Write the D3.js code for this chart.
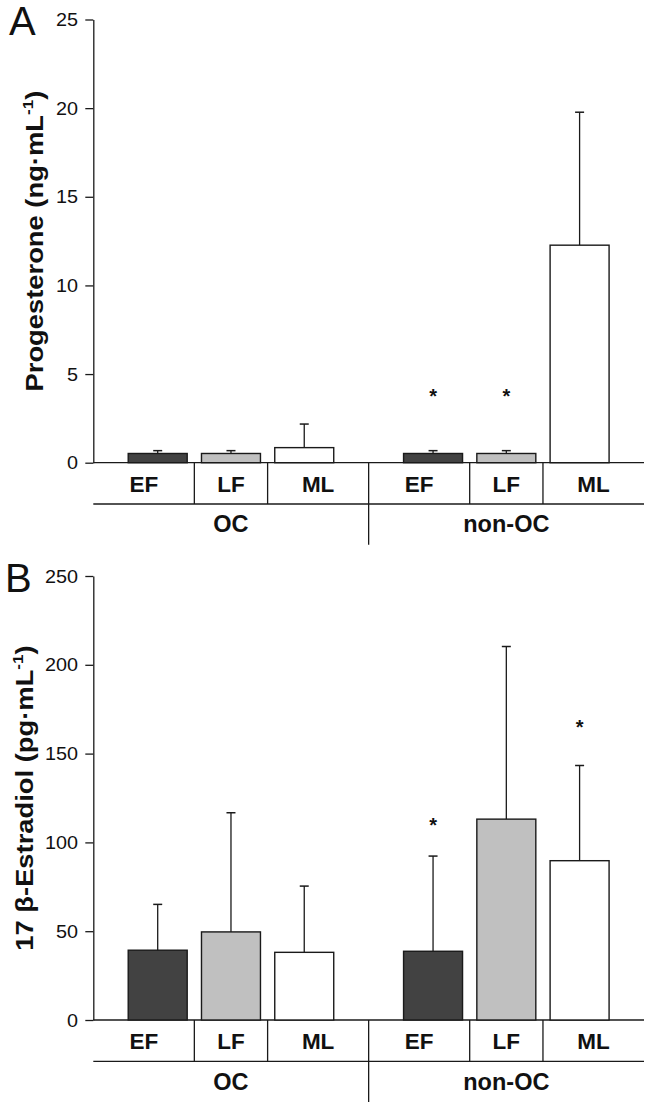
<!DOCTYPE html>
<html><head><meta charset="utf-8">
<script src="https://cdn.jsdelivr.net/npm/d3@7"></script>
<style>
html,body{margin:0;padding:0;background:#fff;}
svg{display:block;font-family:"Liberation Sans",Arial,Helvetica,sans-serif;}
</style>
</head><body>
<svg id="chart" width="649" height="1107"></svg>
<script>
// ---- data ----
const groups = ["OC", "non-OC"];
const phases = ["EF", "LF", "ML"];
// order: OC EF, OC LF, OC ML, non-OC EF, non-OC LF, non-OC ML
const progMean = [0.52, 0.52, 0.85, 0.52, 0.52, 12.27];
const progSD   = [0.16, 0.16, 1.33, 0.16, 0.16, 7.50];
const progStar = [null, null, null, 4.0, 4.0, null];
const progTicks = [0, 5, 10, 15, 20, 25];

const estMean = [39.3, 49.6, 38.1, 38.7, 113.1, 89.7];
const estSD   = [25.8, 67.1, 37.3, 53.6, 97.2, 53.6];
const estStar = [null, null, null, 112.5, null, 167.7];
const estTicks = [0, 50, 100, 150, 200, 250];

const phaseFill = {EF: "#424242", LF: "#c0c0c0", ML: "#ffffff"};

// ---- layout ----
const X0 = 93.3, X1 = 644;
const ink = "#1a1a1a";
const panels = [
  {letter: "A", letterX: 9, top: 19.5, base: 462.7, max: 25, mean: progMean, sd: progSD, star: progStar,
   ticks: progTicks, label: ["Progesterone (ng·mL", "-1", ")"], labelX: 43.3},
  {letter: "B", letterX: 5, top: 576, base: 1020, max: 250, mean: estMean, sd: estSD, star: estStar,
   ticks: estTicks, label: ["17 β-Estradiol (pg·mL", "-1", ")"], labelX: 33}
];

const svg = d3.select("#chart");
const gx = d3.scaleBand().domain(groups).range([X0, X1]).paddingInner(0).paddingOuter(0);
const PI = 0.195;
const inner = d3.scaleBand().domain(phases).range([0, gx.bandwidth()]).paddingInner(PI).paddingOuter(0.4765);
const bw = inner.bandwidth(), step = inner.step();

const rows = groups.flatMap((g, gi) => phases.map((p, pi) => ({g, p, pi, i: gi * 3 + pi})));

function cellBounds(d) {
  const gs = gx(d.g);
  const left = d.pi === 0 ? gs : gs + inner(d.p) - step * PI / 2;
  const right = d.pi === phases.length - 1 ? gs + gx.bandwidth() : gs + inner(d.p) + bw + step * PI / 2;
  return [left, right];
}

panels.forEach(P => {
  const y = d3.scaleLinear().domain([0, P.max]).range([P.base, P.top]);
  const g = svg.append("g");

  // y axis
  const ax = g.append("g").attr("transform", `translate(${X0},0)`)
    .call(d3.axisLeft(y).tickValues(P.ticks).tickSize(8).tickSizeOuter(0));
  ax.select(".domain").attr("stroke", ink).attr("stroke-width", 1.3);
  ax.selectAll(".tick line").attr("stroke", ink).attr("stroke-width", 1.3);
  ax.selectAll(".tick text")
    .attr("font-family", '"Liberation Sans", Arial, sans-serif')
    .attr("font-size", 18).attr("fill", "#111")
    .attr("x", -15.3 / 1.1).attr("dy", "0.34em")
    .attr("transform", "scale(1.1,1)");

  // baseline & category box
  const lowY = P.base + 41.3;
  g.append("line").attr("x1", X0).attr("x2", X1).attr("y1", y(0)).attr("y2", y(0))
    .attr("stroke", ink).attr("stroke-width", 1.3);
  g.append("line").attr("x1", X0).attr("x2", X1).attr("y1", lowY).attr("y2", lowY)
    .attr("stroke", ink).attr("stroke-width", 1.3);
  // cell dividers
  rows.filter(d => d.pi > 0).forEach(d => {
    const xx = cellBounds(d)[0];
    g.append("line").attr("x1", xx).attr("x2", xx).attr("y1", y(0)).attr("y2", lowY)
      .attr("stroke", ink).attr("stroke-width", 1.3);
  });
  // group divider
  groups.slice(1).forEach(gr => {
    const xx = gx(gr);
    g.append("line").attr("x1", xx).attr("x2", xx).attr("y1", y(0)).attr("y2", P.base + 82)
      .attr("stroke", ink).attr("stroke-width", 1.3);
  });

  // error bars (drawn under bars' outlines)
  rows.forEach(d => {
    const cx = gx(d.g) + inner(d.p) + bw / 2;
    const top = y(P.mean[d.i] + P.sd[d.i]);
    g.append("line").attr("x1", cx).attr("x2", cx).attr("y1", y(P.mean[d.i])).attr("y2", top)
      .attr("stroke", ink).attr("stroke-width", 1.3);
    g.append("line").attr("x1", cx - 4.5).attr("x2", cx + 4.5).attr("y1", top).attr("y2", top)
      .attr("stroke", ink).attr("stroke-width", 1.5);
  });

  // bars
  g.selectAll("rect.bar").data(rows).enter().append("rect").attr("class", "bar")
    .attr("x", d => gx(d.g) + inner(d.p))
    .attr("y", d => y(P.mean[d.i]))
    .attr("width", bw)
    .attr("height", d => y(0) - y(P.mean[d.i]))
    .attr("fill", d => phaseFill[d.p])
    .attr("stroke", ink).attr("stroke-width", 1.4);

  // significance stars
  rows.filter(d => P.star[d.i] != null).forEach(d => {
    const cx = gx(d.g) + inner(d.p) + bw / 2;
    g.append("text").attr("x", cx).attr("y", y(P.star[d.i]) + 11.5)
      .attr("text-anchor", "middle").attr("font-size", 20).attr("font-weight", "bold")
      .attr("fill", "#111").text("*");
  });

  // category labels
  rows.forEach(d => {
    const [l, r] = cellBounds(d);
    g.append("text").attr("x", (l + r) / 2).attr("y", P.base + 29.3)
      .attr("text-anchor", "middle").attr("font-size", 22.5).attr("font-weight", "bold")
      .attr("fill", "#111").text(d.p);
  });
  // group labels
  groups.forEach(gr => {
    g.append("text").attr("x", gx(gr) + gx.bandwidth() / 2).attr("y", P.base + 69.5)
      .attr("text-anchor", "middle").attr("font-size", 23.5).attr("font-weight", "bold")
      .attr("fill", "#111").text(gr);
  });

  // panel letter
  g.append("text").attr("x", P.letterX).attr("y", P.top + 15.5)
    .attr("font-size", 40).attr("fill", "#111").text(P.letter);

  // y-axis title
  const t = g.append("text")
    .attr("transform", `translate(${P.labelX},${(P.top + P.base) / 2}) rotate(-90) scale(1.14,1)`)
    .attr("text-anchor", "middle").attr("font-size", 24).attr("font-weight", "bold").attr("fill", "#111");
  t.append("tspan").text(P.label[0]);
  t.append("tspan").attr("font-size", 15).attr("dy", -10).text(P.label[1]);
  t.append("tspan").attr("dy", 10).text(P.label[2]);
});
</script>
</body></html>
